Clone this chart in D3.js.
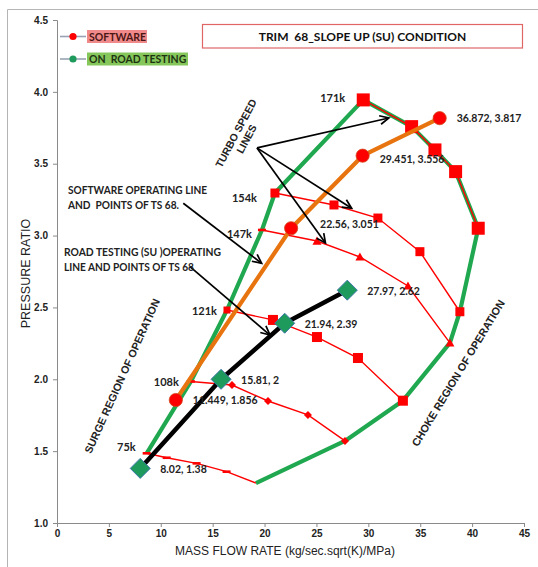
<!DOCTYPE html>
<html>
<head>
<meta charset="utf-8">
<script src="https://cdn.jsdelivr.net/npm/d3@7"></script>
<style>
  html, body { margin: 0; padding: 0; background: #fff; }
  svg { display: block; }
</style>
</head>
<body>
<svg id="chart" width="538" height="567"></svg>
<script>
// ---- Turbo speed lines: corrected mass flow (kg/s.sqrt(K)/MPa) vs pressure ratio ----
const speedNames = ["75k", "108k", "121k", "147k", "154k", "171k"];
const flow75k  = [8.64, 10.57, 13.45, 16.34, 19.17];
const pr75k    = [1.485, 1.454, 1.415, 1.357, 1.278];
const flow108k = [12.9, 16.86, 20.33, 24.18, 27.75];
const pr108k   = [1.985, 1.960, 1.849, 1.752, 1.571];
const flow121k = [16.38, 20.81, 25.05, 29.0, 33.33];
const pr121k   = [2.482, 2.413, 2.294, 2.148, 1.851];
const flow147k = [19.75, 25.05, 29.19, 33.82, 37.86];
const pr147k   = [3.039, 2.962, 2.851, 2.649, 2.253];
const flow154k = [21.0, 26.69, 30.92, 34.97, 38.82];
const pr154k   = [3.296, 3.213, 3.122, 2.888, 2.470];
const flow171k = [29.51, 34.17, 36.42, 38.41, 40.59];
const pr171k   = [3.944, 3.758, 3.596, 3.445, 3.051];

// ---- Software operating line and points of TS 68 ----
const softwareFlow = [11.449, 22.56, 29.451, 36.872];
const softwarePR   = [1.856, 3.051, 3.556, 3.817];

// ---- Road testing (slope up) operating line and points of TS 68 ----
const roadFlow = [8.02, 15.81, 21.94, 27.97];
const roadPR   = [1.38, 2, 2.39, 2.62];

// ---- Axis ticks ----
const xTicks = [0, 5, 10, 15, 20, 25, 30, 35, 40, 45];
const yTicks = [1.0, 1.5, 2.0, 2.5, 3.0, 3.5, 4.0, 4.5];

// Build speed-line table
const speedFlows = [flow75k, flow108k, flow121k, flow147k, flow154k, flow171k];
const speedPRs   = [pr75k, pr108k, pr121k, pr147k, pr154k, pr171k];
const speedLines = speedNames.map((name, i) => ({
  name,
  points: speedFlows[i].map((f, j) => ({ x: f, y: speedPRs[i][j] }))
}));
const software = softwareFlow.map((f, i) => ({ x: f, y: softwarePR[i] }));
const road = roadFlow.map((f, i) => ({ x: f, y: roadPR[i] }));

// Marker look for each speed line
const markerStyle = {
  "75k":  { shape: "dash",     size: 8,  first: "dash" },
  "108k": { shape: "diamond",  size: 8,  first: "dash" },
  "121k": { shape: "square",   size: 10, first: "smallsquare" },
  "147k": { shape: "triangle", size: 9,  first: "dash" },
  "154k": { shape: "square",   size: 9,  first: "square" },
  "171k": { shape: "square",   size: 13, first: "square" }
};
// Speed label placement relative to the first point of each line
const speedLabelOffset = {
  "75k": [-11, -7], "108k": [-12, 0], "121k": [-10, 0],
  "147k": [-10, 4], "154k": [-18, 4], "171k": [-18, -2]
};
const softwareLabelOffset = [[17, 0], [29, -4], [17, 3], [17, 0]];
const roadLabelOffset = [[20, 1], [20, 1], [20, 1], [20, 1]];

const svg = d3.select("#chart");
const x = d3.scaleLinear().domain([0, 45]).range([57, 524]);
const y = d3.scaleLinear().domain([1, 4.5]).range([523, 20]);

const RED = "#ff0000";
const GREEN = "#1fa84f";
const ORANGE = "#e8740f";
const calibri = "Lato, 'Open Sans', sans-serif";
const arial = "'Liberation Sans', Arial, sans-serif";

// Chart area frame
svg.append("line").attr("x1", 7.5).attr("x2", 538).attr("y1", 9.5).attr("y2", 9.5)
  .attr("stroke", "#b5b5b5").attr("stroke-width", 1);
svg.append("line").attr("x1", 7.5).attr("x2", 7.5).attr("y1", 9.5).attr("y2", 567)
  .attr("stroke", "#b5b5b5").attr("stroke-width", 1);

// Axes
const yAxis = svg.append("g").attr("transform", `translate(${x(0)},0)`)
  .call(d3.axisLeft(y).tickValues(yTicks).tickFormat(d3.format(".1f")).tickSize(4).tickPadding(5));
const xAxis = svg.append("g").attr("transform", `translate(0,${y(1)})`)
  .call(d3.axisBottom(x).tickValues(xTicks).tickFormat(d3.format("d")).tickSize(4).tickPadding(3));
[xAxis, yAxis].forEach(g => {
  g.select(".domain").attr("stroke", "#8a8a8a");
  g.selectAll(".tick line").attr("stroke", "#8a8a8a");
  g.selectAll(".tick text").attr("fill", "#222").attr("font-family", arial)
    .attr("font-size", 10).attr("font-weight", "bold");
});

svg.append("text").attr("transform", `translate(30,${(y(1) + y(4.5)) / 2 + 2}) rotate(-90)`)
  .attr("text-anchor", "middle").attr("font-family", arial).attr("font-size", 12.5)
  .attr("fill", "#222").text("PRESSURE RATIO");
svg.append("text").attr("x", 285).attr("y", 555)
  .attr("text-anchor", "middle").attr("font-family", arial).attr("font-size", 12)
  .attr("fill", "#222").text("MASS FLOW RATE (kg/sec.sqrt(K)/MPa)");

const line = d3.line().x(d => x(d.x)).y(d => y(d.y));

// Surge / choke boundary: first points up to the top speed line, along it, then last points down
const surgePts = speedLines.slice(0, -1).map(s => s.points[0]);
const topSpeedPts = speedLines[speedLines.length - 1].points;
const chokePts = speedLines.slice(0, -1).map(s => s.points[s.points.length - 1]).reverse();
const boundary = surgePts.concat(topSpeedPts, chokePts);
svg.append("path").attr("d", line(boundary)).attr("fill", "none")
  .attr("stroke", GREEN).attr("stroke-width", 4.2).attr("stroke-linejoin", "round");

// Marker drawing
function drawMarker(g, shape, size, cx, cy) {
  const h = size / 2;
  if (shape === "square") {
    g.append("rect").attr("x", cx - h).attr("y", cy - h).attr("width", size).attr("height", size).attr("fill", RED);
  } else if (shape === "smallsquare") {
    g.append("rect").attr("x", cx - 3.5).attr("y", cy - 3.5).attr("width", 7).attr("height", 7).attr("fill", RED);
  } else if (shape === "diamond") {
    g.append("path").attr("d", `M${cx},${cy - h}L${cx + h},${cy}L${cx},${cy + h}L${cx - h},${cy}Z`).attr("fill", RED);
  } else if (shape === "triangle") {
    g.append("path").attr("d", `M${cx},${cy - h}L${cx + h},${cy + h * 0.8}L${cx - h},${cy + h * 0.8}Z`).attr("fill", RED);
  } else if (shape === "dash") {
    g.append("rect").attr("x", cx - 4).attr("y", cy - 1.3).attr("width", 8).attr("height", 2.6).attr("fill", RED);
  }
}

// Speed lines
const speedG = svg.append("g");
speedLines.forEach(s => {
  speedG.append("path").attr("d", line(s.points)).attr("fill", "none")
    .attr("stroke", RED).attr("stroke-width", 1.4);
  const st = markerStyle[s.name];
  s.points.forEach((p, i) => {
    const shape = i === 0 ? st.first : st.shape;
    if (s.name === "75k" && i === s.points.length - 1) return;
    drawMarker(speedG, shape, st.size, x(p.x), y(p.y));
  });
  const off = speedLabelOffset[s.name];
  speedG.append("text").attr("x", x(s.points[0].x) + off[0]).attr("y", y(s.points[0].y) + off[1])
    .attr("text-anchor", "end").attr("dominant-baseline", "central")
    .attr("font-family", calibri).attr("font-weight", "bold").attr("font-size", 11)
    .attr("fill", "#222").text(s.name);
});

// Software operating line
svg.append("path").attr("d", line(software)).attr("fill", "none")
  .attr("stroke", ORANGE).attr("stroke-width", 4.2).attr("stroke-linejoin", "round");
svg.append("g").selectAll("circle").data(software).join("circle")
  .attr("cx", d => x(d.x)).attr("cy", d => y(d.y)).attr("r", 6.6)
  .attr("fill", RED).attr("stroke", "#d2461c").attr("stroke-width", 0.8);

// Road testing operating line
svg.append("path").attr("d", line(road)).attr("fill", "none")
  .attr("stroke", "#000").attr("stroke-width", 4.5).attr("stroke-linejoin", "round");
svg.append("g").selectAll("path").data(road).join("path")
  .attr("d", d => {
    const cx = x(d.x), cy = y(d.y), h = 10;
    return `M${cx},${cy - h}L${cx + h},${cy}L${cx},${cy + h}L${cx - h},${cy}Z`;
  })
  .attr("fill", "#1e9a5c").attr("stroke", "#3f77a8").attr("stroke-width", 1);

// Value labels
const fmt = d => `${d.x}, ${d.y}`;
software.forEach((d, i) => {
  svg.append("text").attr("x", x(d.x) + softwareLabelOffset[i][0]).attr("y", y(d.y) + softwareLabelOffset[i][1])
    .attr("dominant-baseline", "central").attr("font-family", calibri).attr("font-weight", "bold")
    .attr("font-size", 10.5).attr("fill", "#222").text(fmt(d));
});
road.forEach((d, i) => {
  svg.append("text").attr("x", x(d.x) + roadLabelOffset[i][0]).attr("y", y(d.y) + roadLabelOffset[i][1])
    .attr("dominant-baseline", "central").attr("font-family", calibri).attr("font-weight", "bold")
    .attr("font-size", 10.5).attr("fill", "#222").text(fmt(d));
});

// Annotation arrows (open heads), positioned in data coordinates
function arrow(x0, y0, x1, y1) {
  const X0 = x(x0), Y0 = y(y0), X1 = x(x1), Y1 = y(y1);
  const a = Math.atan2(Y1 - Y0, X1 - X0), L = 10, w = 0.45;
  const g = svg.append("g").attr("stroke", "#000").attr("stroke-width", 1.7).attr("fill", "none");
  g.append("line").attr("x1", X0).attr("y1", Y0).attr("x2", X1).attr("y2", Y1);
  g.append("path").attr("d",
    `M${X1 - L * Math.cos(a - w)},${Y1 - L * Math.sin(a - w)}L${X1},${Y1}L${X1 - L * Math.cos(a + w)},${Y1 - L * Math.sin(a + w)}`);
}
arrow(19.27, 3.61, 31.98, 3.818);
arrow(19.27, 3.61, 28.39, 3.19);
arrow(19.27, 3.61, 25.87, 2.949);
arrow(12.17, 3.225, 19.72, 2.807);
arrow(12.81, 2.784, 20.52, 2.308);

// Annotation texts (each line fitted to its width)
function textLines(lines, widths, x0, y0, dy) {
  lines.forEach((t, i) => {
    svg.append("text").attr("x", x0).attr("y", y0 + i * dy)
      .attr("font-family", calibri).attr("font-weight", "bold").attr("font-size", 11.5)
      .attr("textLength", widths[i]).attr("lengthAdjust", "spacingAndGlyphs")
      .attr("fill", "#222").attr("xml:space", "preserve").text(t);
  });
}
textLines(["SOFTWARE OPERATING LINE", "AND  POINTS OF TS 68."], [139, 111], 68, 194, 15);
textLines(["ROAD TESTING (SU )OPERATING", "LINE AND POINTS OF TS 68"], [157, 130], 64, 256, 15);

function rotated(lines, cx, cy, angle, size, gap) {
  const g = svg.append("g").attr("transform", `translate(${cx},${cy}) rotate(${angle})`);
  lines.forEach((t, i) => {
    g.append("text").attr("x", 0).attr("y", (i - (lines.length - 1) / 2) * gap)
      .attr("text-anchor", "middle").attr("dominant-baseline", "central")
      .attr("font-family", arial).attr("font-weight", "bold").attr("font-size", size)
      .attr("fill", "#222").text(t);
  });
}
rotated(["TURBO SPEED", "LINES"], 241, 136, -62, 10.5, 12);
rotated(["SURGE REGION OF OPERATION"], 122, 376, -65.7, 10.8, 0);
rotated(["CHOKE REGION OF OPERATION"], 458, 373, -58.8, 10.8, 0);

// Title box
svg.append("rect").attr("x", 202.5).attr("y", 24.5).attr("width", 320).attr("height", 23.5)
  .attr("fill", "#fff").attr("stroke", "#e06666").attr("stroke-width", 1.2);
svg.append("text").attr("x", 362.5).attr("y", 36.5).attr("text-anchor", "middle")
  .attr("dominant-baseline", "central").attr("font-family", calibri).attr("font-weight", "bold")
  .attr("font-size", 12).attr("fill", "#111").attr("xml:space", "preserve")
  .text("TRIM  68_SLOPE UP (SU) CONDITION");

// Legend
const legendItems = [
  { label: "SOFTWARE", dot: RED, bg: "#f08a8a", fg: "#4a1515", y: 36.5, w: 60 },
  { label: "ON  ROAD TESTING", dot: "#1e9a5c", bg: "#86c75c", fg: "#1d3311", y: 59, w: 101 }
];
legendItems.forEach(it => {
  svg.append("line").attr("x1", 60).attr("x2", 86).attr("y1", it.y).attr("y2", it.y)
    .attr("stroke", "#98a2b4").attr("stroke-width", 1.6);
  svg.append("circle").attr("cx", 73).attr("cy", it.y).attr("r", 3.6).attr("fill", it.dot);
  svg.append("rect").attr("x", 87).attr("y", it.y - 6.5).attr("width", it.w).attr("height", 13).attr("fill", it.bg);
  svg.append("text").attr("x", 89).attr("y", it.y).attr("dominant-baseline", "central")
    .attr("font-family", calibri).attr("font-weight", "bold").attr("font-size", 10.5)
    .attr("fill", it.fg).attr("xml:space", "preserve").text(it.label);
});
</script>
</body>
</html>
